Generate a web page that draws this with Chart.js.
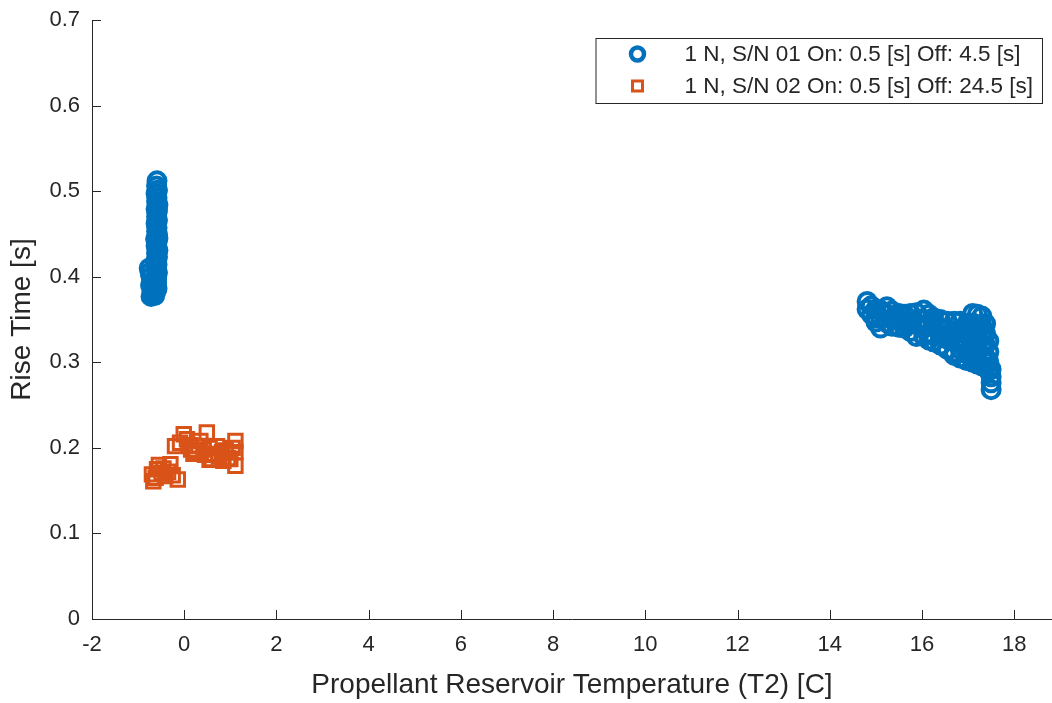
<!DOCTYPE html>
<html>
<head>
<meta charset="utf-8">
<title>Rise Time vs Propellant Reservoir Temperature</title>
<script src="https://cdn.jsdelivr.net/npm/chart.js@4/dist/chart.umd.min.js"></script>
<style>
  html, body { margin: 0; padding: 0; background: #fff; overflow: hidden; }
  #wrap { width: 1052px; height: 703px; }
</style>
</head>
<body>
<div id="wrap"><canvas id="chartRise"></canvas></div>
<script>
// values (S/N 01: cold cluster, then warm cluster)
const sn01Temp = [
  -0.59, -0.60, -0.58, -0.61, -0.59, -0.60, -0.57, -0.61, -0.59, -0.60,
  -0.58, -0.61, -0.59, -0.60, -0.58, -0.62, -0.59, -0.61, -0.57, -0.60,
  -0.58, -0.62, -0.59, -0.60, -0.58, -0.61, -0.63, -0.60, -0.62, -0.59,
  -0.66, -0.76, -0.74, -0.72, -0.73, -0.70, -0.72, -0.68, -0.66, -0.64,
  -0.61, -0.62, -0.57, -0.58, -0.60,
  14.81, 14.81, 14.90, 14.90, 15.00, 15.00, 15.00, 15.10, 15.10, 15.10,
  15.24, 15.24, 15.24, 15.35, 15.35, 15.35, 15.50, 15.50, 15.50, 15.62,
  15.62, 15.62, 15.75, 15.75, 15.75, 15.88, 15.88, 15.88, 16.04, 16.04,
  16.04, 16.04, 16.15, 16.15, 16.15, 16.15, 16.25, 16.25, 16.25, 16.25,
  16.40, 16.40, 16.40, 16.40, 16.55, 16.55, 16.55, 16.55, 16.70, 16.70,
  16.70, 16.70, 16.70, 16.83, 16.83, 16.83, 16.83, 16.83, 16.97, 16.97,
  16.97, 16.97, 16.97, 17.10, 17.10, 17.10, 17.10, 17.10, 17.10, 17.20,
  17.20, 17.20, 17.20, 17.20, 17.20, 17.30, 17.30, 17.30, 17.30, 17.30,
  17.30, 17.38, 17.38, 17.38, 17.38, 17.38, 17.45, 17.45, 17.45, 17.45,
  17.50, 17.50, 17.50, 17.50
];
const sn01Rise = [
  0.512, 0.506, 0.501, 0.497, 0.492, 0.488, 0.484, 0.479, 0.475, 0.470,
  0.466, 0.462, 0.457, 0.453, 0.449, 0.444, 0.440, 0.436, 0.431, 0.427,
  0.423, 0.418, 0.414, 0.410, 0.405, 0.401, 0.397, 0.393, 0.389, 0.386,
  0.395, 0.410, 0.405, 0.400, 0.390, 0.383, 0.377, 0.380, 0.385, 0.378,
  0.392, 0.382, 0.445, 0.478, 0.398,
  0.371, 0.362, 0.366, 0.356, 0.362, 0.352, 0.347, 0.361, 0.352, 0.340,
  0.365, 0.356, 0.346, 0.360, 0.350, 0.342, 0.357, 0.349, 0.341, 0.356,
  0.348, 0.340, 0.357, 0.347, 0.336, 0.358, 0.344, 0.330, 0.361, 0.350,
  0.340, 0.330, 0.356, 0.345, 0.334, 0.326, 0.352, 0.342, 0.332, 0.324,
  0.350, 0.340, 0.330, 0.320, 0.348, 0.338, 0.327, 0.315, 0.348, 0.336,
  0.324, 0.312, 0.308, 0.348, 0.338, 0.326, 0.315, 0.305, 0.345, 0.334,
  0.322, 0.310, 0.302, 0.357, 0.346, 0.335, 0.322, 0.310, 0.300, 0.356,
  0.344, 0.330, 0.318, 0.305, 0.298, 0.354, 0.343, 0.331, 0.320, 0.308,
  0.296, 0.345, 0.333, 0.320, 0.306, 0.294, 0.325, 0.312, 0.300, 0.290,
  0.292, 0.283, 0.276, 0.268
];
const sn02Temp = [
  -0.70, -0.59, -0.30, -0.41, -0.14, -0.67, -0.49, -0.62, -0.35, -0.25,
  -0.55, -0.45,
  -0.01, 0.06, 0.49, -0.20, 0.13, 0.20, 0.42, 0.60, 0.82, 1.11,
  1.11, 1.11, 1.00, 0.31, 0.71, -0.09, 0.25, 0.35, 0.55, 0.65,
  0.75, 0.90, 0.95, 1.05, 0.45, 0.15, 0.85, 0.55
];
const sn02Rise = [
  0.169, 0.175, 0.181, 0.167, 0.163, 0.161, 0.171, 0.165, 0.172, 0.168,
  0.180, 0.176,
  0.216, 0.210, 0.218, 0.202, 0.203, 0.193, 0.198, 0.187, 0.195, 0.208,
  0.195, 0.179, 0.187, 0.202, 0.202, 0.206, 0.196, 0.208, 0.200, 0.193,
  0.190, 0.197, 0.188, 0.200, 0.192, 0.198, 0.185, 0.186
];
const seriesLabels = ['1 N, S/N 01 On: 0.5 [s] Off: 4.5 [s]', '1 N, S/N 02 On: 0.5 [s] Off: 24.5 [s]'];
const xTicks = [-2, 0, 2, 4, 6, 8, 10, 12, 14, 16, 18];
const yTicks = [0, 0.1, 0.2, 0.3, 0.4, 0.5, 0.6, 0.7];

const fontFam = '"Liberation Sans", Arial, Helvetica, sans-serif';
const ink = '#262626';
const blue = '#0072BD';
const orange = '#D95319';

function toPoints(xs, ys) {
  return xs.map((x, i) => ({ x: x, y: ys[i] }));
}

// inward tick marks, MATLAB style
const innerTicks = {
  id: 'innerTicks',
  afterDraw(chart) {
    const ctx = chart.ctx;
    const area = chart.chartArea;
    const xs = chart.scales.x, ys = chart.scales.y;
    ctx.save();
    ctx.strokeStyle = ink;
    ctx.lineWidth = 1;
    ctx.beginPath();
    xTicks.forEach(v => {
      const px = Math.round(xs.getPixelForValue(v)) + 0.5;
      ctx.moveTo(px, area.bottom);
      ctx.lineTo(px, area.bottom - 9);
    });
    yTicks.forEach(v => {
      const py = Math.round(ys.getPixelForValue(v)) + 0.5;
      ctx.moveTo(area.left, py);
      ctx.lineTo(area.left + 9, py);
    });
    ctx.stroke();
    ctx.restore();
  }
};

// boxed legend inside the axes, top right
const boxLegend = {
  id: 'boxLegend',
  afterDraw(chart) {
    const ctx = chart.ctx;
    const area = chart.chartArea;
    ctx.save();
    ctx.font = '22.5px ' + fontFam;
    const textW = Math.max(...seriesLabels.map(t => ctx.measureText(t).width));
    const right = 1042;
    const top = area.top + 18;
    const left = right - textW - 89 - 9;
    const h = 65;
    ctx.fillStyle = '#fff';
    ctx.fillRect(left, top, right - left, h);
    ctx.strokeStyle = ink;
    ctx.lineWidth = 1;
    ctx.strokeRect(left + 0.5, top + 0.5, right - left, h);

    const rows = [top + 16, top + 48];
    ctx.strokeStyle = blue;
    ctx.lineWidth = 4.5;
    ctx.beginPath();
    ctx.arc(left + 42, rows[0], 6.5, 0, Math.PI * 2);
    ctx.stroke();
    ctx.strokeStyle = orange;
    ctx.lineWidth = 3;
    ctx.strokeRect(left + 42 - 5, rows[1] - 5, 10, 10);

    ctx.fillStyle = ink;
    ctx.textBaseline = 'middle';
    ctx.textAlign = 'left';
    seriesLabels.forEach((t, i) => ctx.fillText(t, left + 89, rows[i] + 1));
    ctx.restore();
  }
};

document.addEventListener('DOMContentLoaded', function() {
  const ctxRise = document.getElementById('chartRise').getContext('2d');
  const chartRise = new Chart(ctxRise, {
    type: 'scatter',
    data: {
      datasets: [{
        label: seriesLabels[0],
        data: toPoints(sn01Temp, sn01Rise),
        pointStyle: 'circle',
        pointRadius: 8.5,
        pointBorderWidth: 4,
        pointBorderColor: blue,
        pointBackgroundColor: 'rgba(0,0,0,0)'
      }, {
        label: seriesLabels[1],
        data: toPoints(sn02Temp, sn02Rise),
        pointStyle: 'rect',
        pointRadius: 9.5,
        pointBorderWidth: 3,
        pointBorderColor: orange,
        pointBackgroundColor: 'rgba(0,0,0,0)'
      }]
    },
    options: {
      responsive: true,
      maintainAspectRatio: false,
      animation: false,
      layout: { autoPadding: false, padding: { left: 0, top: 20, right: 0, bottom: 0 } },
      plugins: {
        legend: { display: false },
        tooltip: { enabled: false }
      },
      scales: {
        x: {
          type: 'linear',
          min: -2,
          max: 18.82,
          afterBuildTicks: s => { s.ticks = xTicks.map(v => ({ value: v })); },
          afterFit: s => { s.height = 84; s.paddingLeft = 0; s.paddingRight = 0; },
          grid: { display: false, drawTicks: false },
          border: { display: true, color: ink, width: 1 },
          ticks: {
            color: ink,
            padding: 13,
            font: { family: fontFam, size: 22 },
            callback: v => String(v)
          },
          title: {
            display: true,
            text: 'Propellant Reservoir Temperature (T2) [C]',
            color: ink,
            font: { family: fontFam, size: 28 },
            padding: { top: 0, bottom: 1 }
          }
        },
        y: {
          type: 'linear',
          min: 0,
          max: 0.7,
          afterBuildTicks: s => { s.ticks = yTicks.map(v => ({ value: v })); },
          afterFit: s => { s.width = 92; s.paddingTop = 0; s.paddingBottom = 0; },
          grid: { display: false, drawTicks: false },
          border: { display: true, color: ink, width: 1 },
          ticks: {
            color: ink,
            padding: 12,
            font: { family: fontFam, size: 22 },
            callback: v => String(+Number(v).toFixed(1))
          },
          title: {
            display: true,
            text: 'Rise Time [s]',
            color: ink,
            font: { family: fontFam, size: 28 },
            padding: { top: 5, bottom: 0 }
          }
        }
      }
    },
    plugins: [innerTicks, boxLegend]
  });
});
</script>
</body>
</html>
